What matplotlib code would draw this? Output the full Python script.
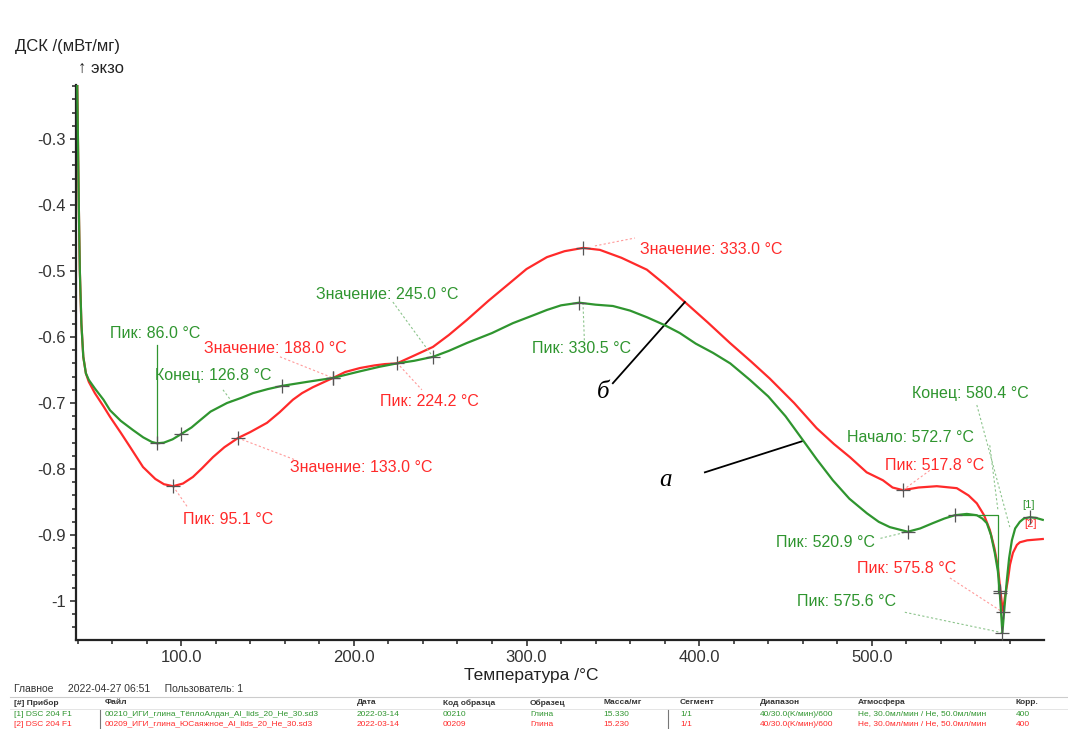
import matplotlib.pyplot as plt
from matplotlib.ticker import MultipleLocator, FormatStrFormatter, FuncFormatter
import numpy as np

plt.rcParams['font.family'] = ['Liberation Sans', 'DejaVu Sans']

# --- DSC curves (temperature in C, DSC in mW/mg) ---
# curve "a" (green, [1])
t_green = [39.8, 40.2, 40.7, 41.3, 42.2, 43.3, 44.8, 46.5, 50, 55, 58.8, 65, 72.1, 78, 83, 86, 90, 95,
           100, 106, 111, 117, 126.5, 135, 141.6, 150, 158.4, 172.8, 187.9, 203.5, 215, 224.9, 235,
           245.8, 255, 265.5, 280, 292.1, 305, 311.8, 320, 330.5, 340, 350, 360, 369.7, 380, 388.8,
           398, 408, 418, 429.4, 440, 450, 460, 468, 477.4, 487, 497.1, 504, 510.4, 520.8, 528,
           535.3, 542, 548, 555, 560.8, 564, 566.6, 569, 571.2, 573, 574.1, 575.6, 576.8, 578.2,
           579.5, 581.1, 583, 585.7, 588, 591.5, 595, 599]
dsc_green = [-0.217, -0.30, -0.40, -0.50, -0.58, -0.63, -0.655, -0.665, -0.678, -0.695, -0.711, -0.727,
             -0.741, -0.752, -0.759, -0.761, -0.760, -0.755, -0.747, -0.737, -0.726, -0.713, -0.700,
             -0.692, -0.685, -0.679, -0.674, -0.668, -0.662, -0.652, -0.645, -0.640, -0.636, -0.630,
             -0.621, -0.609, -0.594, -0.579, -0.566, -0.559, -0.552, -0.548, -0.551, -0.553, -0.560,
             -0.570, -0.582, -0.594, -0.610, -0.624, -0.640, -0.665, -0.690, -0.720, -0.756, -0.785,
             -0.817, -0.845, -0.867, -0.880, -0.888, -0.895, -0.890, -0.882, -0.875, -0.870, -0.868,
             -0.870, -0.875, -0.882, -0.900, -0.927, -0.955, -0.988, -1.048, -1.010, -0.968, -0.935,
             -0.908, -0.890, -0.880, -0.875, -0.873, -0.874, -0.877]

# curve "б" (red, [2])
t_red = [39.8, 40.2, 40.7, 41.3, 42.2, 43.3, 44.8, 46.5, 50, 55, 58.8, 65, 70, 77.9, 85, 90, 95.3, 101,
         106.8, 112, 118.4, 125, 132.9, 140, 149.7, 157, 164.7, 170, 176.3, 187.9, 195, 203.5, 212,
         218, 224.9, 235, 245.8, 255, 265.5, 278, 290.4, 300, 311.8, 322, 332.7, 342.5, 355, 369.7,
         380, 391.7, 405, 417.8, 430, 440.9, 455, 468, 478, 487.3, 497, 506.4, 512, 518, 527, 537.6,
         549.2, 556, 560.8, 565, 568.3, 571, 573, 574.5, 575.9, 577, 578.8, 580, 581.7, 584, 585.7,
         590, 599]
dsc_red = [-0.219, -0.30, -0.40, -0.50, -0.58, -0.63, -0.655, -0.668, -0.685, -0.705, -0.721, -0.745,
           -0.765, -0.797, -0.815, -0.823, -0.826, -0.822, -0.812, -0.799, -0.782, -0.767, -0.753,
           -0.744, -0.730, -0.714, -0.695, -0.685, -0.676, -0.662, -0.653, -0.647, -0.643, -0.641,
           -0.640, -0.628, -0.615, -0.597, -0.574, -0.545, -0.518, -0.497, -0.479, -0.470, -0.465,
           -0.468, -0.480, -0.498, -0.520, -0.547, -0.578, -0.609, -0.637, -0.663, -0.700, -0.738,
           -0.762, -0.782, -0.805, -0.817, -0.828, -0.832, -0.828, -0.826, -0.829, -0.840, -0.852,
           -0.870, -0.892, -0.920, -0.948, -0.985, -1.017, -0.995, -0.968, -0.945, -0.927, -0.915,
           -0.911, -0.908, -0.906]

# points marked with a cross on each curve
cross_green = [86.0, 100.0, 158.4, 187.9, 245.8, 330.5, 520.9, 548.0, 574.1, 575.6, 591.5]
cross_red = [95.1, 132.9, 187.9, 224.9, 332.7, 518.0, 574.5, 575.9]

# labels: text, text x, text y, leader from (x1, y1) to (x2, y2)
labels_green = [
    ('Пик: 86.0 °C', 58.8, -0.595, None),
    ('Конец: 126.8 °C', 84.8, -0.659, (124.2, -0.680, 129.4, -0.698)),
    ('Значение: 245.0 °C', 178.0, -0.535, (222.6, -0.547, 245.8, -0.630)),
    ('Пик: 330.5 °C', 303.1, -0.618, (332.7, -0.548, 333.5, -0.605)),
    ('Конец: 580.4 °C', 523.2, -0.686, (560.8, -0.703, 579.9, -0.888)),
    ('Начало: 572.7 °C', 485.5, -0.752, (568.3, -0.764, 573.0, -0.862)),
    ('Пик: 520.9 °C', 444.4, -0.912, (505.0, -0.905, 520.8, -0.895)),
    ('Пик: 575.6 °C', 456.6, -1.000, (519.1, -1.017, 575.6, -1.048)),
]
labels_red = [
    ('Значение: 188.0 °C', 113.2, -0.618, (157.2, -0.630, 187.9, -0.662)),
    ('Пик: 224.2 °C', 215.1, -0.698, (224.9, -0.639, 239.4, -0.680)),
    ('Значение: 133.0 °C', 163.0, -0.798, (132.9, -0.753, 165.9, -0.786)),
    ('Пик: 95.1 °C', 101.0, -0.877, (95.3, -0.826, 104.0, -0.859)),
    ('Значение: 333.0 °C', 365.7, -0.467, (339.6, -0.462, 362.8, -0.450)),
    ('Пик: 517.8 °C', 507.5, -0.794, (518.0, -0.832, 533.6, -0.802)),
    ('Пик: 575.8 °C', 491.3, -0.950, (545.2, -0.965, 575.9, -1.017)),
]

GREEN = '#2f952f'
RED = '#ff2a2a'

fig = plt.figure(figsize=(10.68, 7.29), dpi=100)
ax = fig.add_axes([0.0712, 0.1221, 0.906, 0.7613])

ax.plot(t_green, dsc_green, color=GREEN, lw=1.6, zorder=3)
ax.plot(t_red, dsc_red, color=RED, lw=1.6, zorder=2)

ax.plot(cross_green, np.interp(cross_green, t_green, dsc_green), '+', color='#555555',
        ms=10, mew=0.9, zorder=4)
ax.plot(cross_red, np.interp(cross_red, t_red, dsc_red), '+', color='#555555',
        ms=10, mew=0.9, zorder=4)

# onset construction and peak marker line (green)
ax.plot([548.0, 573.0, 573.0], [-0.870, -0.870, -0.988], color=GREEN, lw=0.9)
ax.plot([86.0, 86.0], [-0.612, -0.761], color=GREEN, lw=0.9)

for txt, x, y, lead in labels_green:
    ax.text(x, y, txt, color=GREEN, fontsize=11.5, ha='left', va='center')
    if lead:
        ax.plot(lead[0::2], lead[1::2], color='#8cc48c', lw=0.8, ls=(0, (2, 2)))
for txt, x, y, lead in labels_red:
    ax.text(x, y, txt, color=RED, fontsize=11.5, ha='left', va='center')
    if lead:
        ax.plot(lead[0::2], lead[1::2], color='#ff9a9a', lw=0.8, ls=(0, (2, 2)))

ax.text(586.9, -0.855, '[1]', color=GREEN, fontsize=8, ha='left', va='center')
ax.text(588.0, -0.883, '[2]', color=RED, fontsize=8, ha='left', va='center')

# sample markers а / б
ax.plot([350.0, 391.7], [-0.670, -0.547], color='black', lw=1.3)
ax.plot([403.3, 459.5], [-0.805, -0.758], color='black', lw=1.3)
ax.text(344.2, -0.683, 'б', fontsize=18, style='italic', family='Liberation Serif',
        ha='center', va='center')
ax.text(380.7, -0.817, 'а', fontsize=18, style='italic', family='Liberation Serif',
        ha='center', va='center')

ax.set_xlim(39.1, 599.5)
ax.set_ylim(-1.059, -0.2182)
ax.xaxis.set_major_locator(MultipleLocator(100))
ax.xaxis.set_minor_locator(MultipleLocator(20))
ax.xaxis.set_major_formatter(FormatStrFormatter('%.1f'))
ax.yaxis.set_major_locator(MultipleLocator(0.1))
ax.yaxis.set_minor_locator(MultipleLocator(0.02))
ax.yaxis.set_major_formatter(FuncFormatter(lambda v, p: '%g' % round(v, 2)))
ax.tick_params(which='both', direction='out', colors='#333333', labelsize=12, width=1.2)
ax.tick_params(which='major', length=4)
ax.tick_params(which='minor', length=3)
for s in ['top', 'right']:
    ax.spines[s].set_visible(False)
for s in ['left', 'bottom']:
    ax.spines[s].set_linewidth(1.6)
    ax.spines[s].set_color('#222222')

ax.set_xlabel('Температура /°C', fontsize=12.5, color='#222222')
ax.xaxis.set_label_coords(0.47, -0.05)
fig.text(15 / 1068, 1 - 46 / 729, 'ДСК /(мВт/мг)', fontsize=12, va='center', color='#222222')
fig.text(78 / 1068, 1 - 68 / 729, '↑ экзо', fontsize=12, va='center', color='#222222')

# --- bottom info table ---
def ft(x, y, s, c='#333333', size=6.5, weight='normal'):
    fig.text(x / 1068, 1 - y / 729, s, color=c, fontsize=size, va='center', weight=weight)

ft(14, 689, 'Главное     2022-04-27 06:51     Пользователь: 1', size=7.5)
fig.add_artist(plt.Line2D([10 / 1068, 1], [1 - 697 / 729] * 2, color='#cccccc', lw=0.8))
fig.add_artist(plt.Line2D([10 / 1068, 1], [1 - 709 / 729] * 2, color='#e0e0e0', lw=0.6))
fig.add_artist(plt.Line2D([100 / 1068] * 2, [1 - 710 / 729, 0], color='#777777', lw=0.8))
fig.add_artist(plt.Line2D([668 / 1068] * 2, [1 - 710 / 729, 0], color='#777777', lw=0.8))

col_x = [14, 105, 357, 443, 530, 603, 680, 760, 858, 1016]
header = ['[#] Прибор', 'Файл', 'Дата', 'Код образца', 'Образец', 'Масса/мг', 'Сегмент',
          'Диапазон', 'Атмосфера', 'Корр.']
row1 = ['[1] DSC 204 F1', '00210_ИГИ_глина_ТёплоАлдан_Al_lids_20_He_30.sd3', '2022-03-14', '00210',
        'Глина', '15.330', '1/1', '40/30.0(K/мин)/600', 'He, 30.0мл/мин / He, 50.0мл/мин', '400']
row2 = ['[2] DSC 204 F1', '00209_ИГИ_глина_ЮСаяжное_Al_lids_20_He_30.sd3', '2022-03-14', '00209',
        'Глина', '15.230', '1/1', '40/30.0(K/мин)/600', 'He, 30.0мл/мин / He, 50.0мл/мин', '400']
for x, h, a, b in zip(col_x, header, row1, row2):
    ft(x, 703, h, weight='bold', size=6)
    ft(x, 714, a, c=GREEN, size=6)
    ft(x, 724, b, c=RED, size=6)

fig.savefig('out.png', dpi=100)
